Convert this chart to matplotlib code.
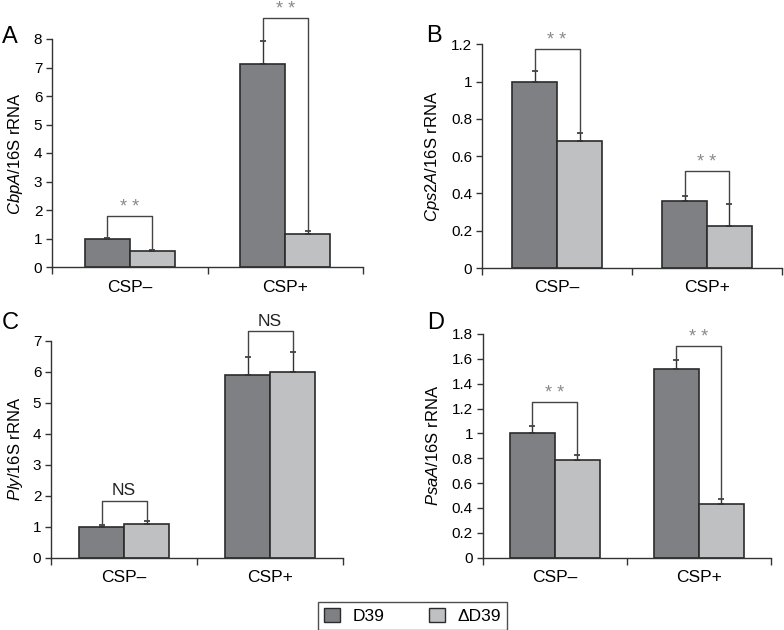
import matplotlib
matplotlib.use("Agg")
import matplotlib.pyplot as plt
from matplotlib.patches import Patch
from matplotlib.ticker import FuncFormatter

plt.rcParams['font.family'] = ['Liberation Sans', 'DejaVu Sans']
plt.rcParams['mathtext.fontset'] = 'custom'
plt.rcParams['mathtext.rm'] = 'Liberation Sans'
plt.rcParams['mathtext.it'] = 'Liberation Sans:italic'

categories = ["CSP\u2013", "CSP+"]
series = ["D39", "\u0394D39"]

cbpA_d39 = [1.0, 7.13]
cbpA_d39_err = [0.03, 0.80]
cbpA_mut = [0.57, 1.15]
cbpA_mut_err = [0.03, 0.10]

cps2A_d39 = [1.0, 0.357]
cps2A_d39_err = [0.055, 0.03]
cps2A_mut = [0.682, 0.227]
cps2A_mut_err = [0.041, 0.116]

ply_d39 = [1.0, 5.9]
ply_d39_err = [0.05, 0.57]
ply_mut = [1.1, 6.0]
ply_mut_err = [0.08, 0.62]

psaA_d39 = [1.0, 1.515]
psaA_d39_err = [0.06, 0.075]
psaA_mut = [0.785, 0.432]
psaA_mut_err = [0.045, 0.04]

# significance labels and bracket heights (data units)
cbpA_sig = ["**", "**"]
cbpA_brk = [1.79, 8.74]
cps2A_sig = ["**", "**"]
cps2A_brk = [1.175, 0.518]
ply_sig = ["NS", "NS"]
ply_brk = [1.84, 7.30]
psaA_sig = ["**", "**"]
psaA_brk = [1.25, 1.70]

W, H = 784, 630
c_d39 = '#7f8084'
c_mut = '#bfc0c2'
edge = '#2b2b2b'

fig = plt.figure(figsize=(W / 100, H / 100), dpi=100)


def px_axes(left, right, top, bottom):
    return fig.add_axes([left / W, 1 - bottom / H, (right - left) / W, (bottom - top) / H])


def panel(box, letter, letter_xy, gene, ylab_x, ymax, ystep,
          d39, d39_err, mut, mut_err, sig, brk):
    ax = px_axes(*box)
    cat_px = (box[1] - box[0]) / 2
    bw = 45 / cat_px
    xs = [0.5, 1.5]
    x1 = [x - bw / 2 for x in xs]
    x2 = [x + bw / 2 for x in xs]
    ax.bar(x1, d39, bw, color=c_d39, edgecolor=edge, linewidth=1.2, zorder=2)
    ax.bar(x2, mut, bw, color=c_mut, edgecolor=edge, linewidth=1.2, zorder=2)
    ax.errorbar(x1, d39, yerr=[[0] * 2, d39_err], fmt='none', ecolor='#333333',
                elinewidth=1, capsize=2, capthick=1.2, zorder=3)
    ax.errorbar(x2, mut, yerr=[[0] * 2, mut_err], fmt='none', ecolor='#333333',
                elinewidth=1, capsize=2, capthick=1.2, zorder=3)

    for i in range(2):
        top1 = d39[i] + d39_err[i]
        top2 = mut[i] + mut_err[i]
        ax.plot([x1[i], x1[i], x2[i], x2[i]], [top1, brk[i], brk[i], top2],
                color='#444444', linewidth=1, clip_on=False, zorder=4)
        if sig[i] == "NS":
            ax.annotate(sig[i], (xs[i], brk[i]), xytext=(0, 2), textcoords='offset points',
                        ha='center', va='bottom', fontsize=12.5, color='#222222',
                        annotation_clip=False)
        else:
            ax.annotate(" ".join(sig[i]), (xs[i], brk[i]), xytext=(0, 0),
                        textcoords='offset points', ha='center', va='bottom',
                        fontsize=13, color='#8a8a8a', annotation_clip=False)

    ax.set_xlim(0, 2)
    ax.set_ylim(0, ymax)
    n = int(round(ymax / ystep))
    ax.set_yticks([ystep * k for k in range(n + 1)])
    ax.yaxis.set_major_formatter(FuncFormatter(lambda v, p: f"{round(v, 2):g}"))
    ax.set_xticks([0, 1, 2])
    ax.set_xticklabels([])
    ax.set_xticks(xs, minor=True)
    ax.set_xticklabels(categories, minor=True, fontsize=12.5)
    ax.tick_params(axis='x', which='minor', length=0, pad=9)
    ax.tick_params(axis='x', which='major', length=5, width=1, color='#333333')
    ax.tick_params(axis='y', length=4, width=1, color='#333333', labelsize=11, pad=3)
    for s in ['top', 'right']:
        ax.spines[s].set_visible(False)
    for s in ['left', 'bottom']:
        ax.spines[s].set_linewidth(1)
        ax.spines[s].set_color('#333333')

    fig.text(letter_xy[0] / W, 1 - letter_xy[1] / H, letter, fontsize=17,
             ha='left', va='center')
    yc = (box[2] + box[3]) / 2
    fig.text(ylab_x / W, 1 - yc / H, r"$\mathit{" + gene + "}$/16S rRNA",
             rotation=90, ha='center', va='center', fontsize=12)
    return ax


panel((52, 363, 39, 267), "A", (2, 37), "CbpA", 16, 8, 1,
      cbpA_d39, cbpA_d39_err, cbpA_mut, cbpA_mut_err, cbpA_sig, cbpA_brk)
panel((482, 782, 44.3, 268), "B", (426, 36), "Cps2A", 433, 1.2, 0.2,
      cps2A_d39, cps2A_d39_err, cps2A_mut, cps2A_mut_err, cps2A_sig, cps2A_brk)
panel((51, 343, 340.7, 557.7), "C", (2, 323), "Ply", 16, 7, 1,
      ply_d39, ply_d39_err, ply_mut, ply_mut_err, ply_sig, ply_brk)
panel((482.7, 771, 334, 557.7), "D", (427, 323), "PsaA", 433, 1.8, 0.2,
      psaA_d39, psaA_d39_err, psaA_mut, psaA_mut_err, psaA_sig, psaA_brk)

handles = [Patch(facecolor=c_d39, edgecolor=edge, linewidth=1),
           Patch(facecolor=c_mut, edgecolor=edge, linewidth=1)]
leg = fig.legend(handles, series, loc='center', ncol=2,
                 bbox_to_anchor=(412.5 / W, 1 - 616 / H), fontsize=12.5,
                 frameon=True, fancybox=False, edgecolor='#222222',
                 handlelength=0.9, handleheight=0.9, handletextpad=0.7,
                 columnspacing=2.6, borderpad=0.35, borderaxespad=0)
leg.get_frame().set_linewidth(1)

fig.savefig("out.png", dpi=100)
